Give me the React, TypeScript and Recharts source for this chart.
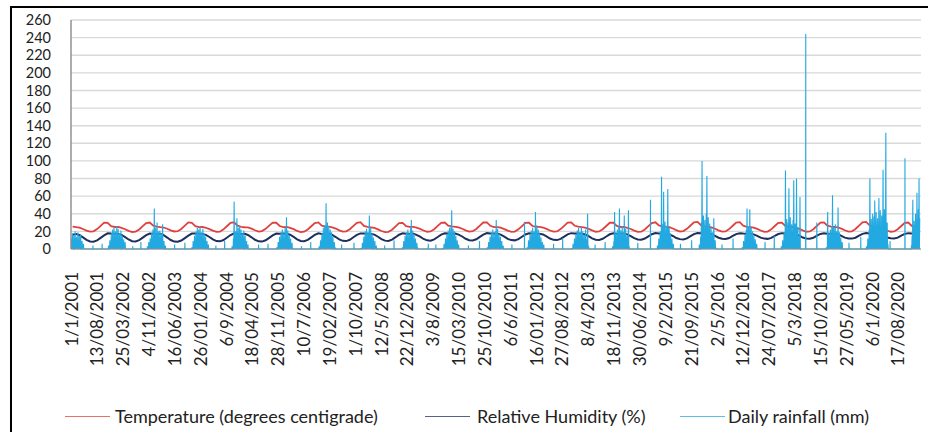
import React from 'react';
import { LineChart, Line, XAxis, YAxis, CartesianGrid } from 'recharts';

// ---------- data ----------
const tickLabels: string[] = [
  '1/1/2001', '13/08/2001', '25/03/2002', '4/11/2002', '16/06/2003', '26/01/2004', '6/9/2004',
  '18/04/2005', '28/11/2005', '10/7/2006', '19/02/2007', '1/10/2007', '12/5/2008', '22/12/2008',
  '3/8/2009', '15/03/2010', '25/10/2010', '6/6/2011', '16/01/2012', '27/08/2012', '8/4/2013',
  '18/11/2013', '30/06/2014', '9/2/2015', '21/09/2015', '2/5/2016', '12/12/2016', '24/07/2017',
  '5/3/2018', '15/10/2018', '27/05/2019', '6/1/2020', '17/08/2020',
];

const yTicks: number[] = [0, 20, 40, 60, 80, 100, 120, 140, 160, 180, 200, 220, 240, 260];

const firstYear = 2001;

// monthly temperature (Jan..Dec), one row per year
const temperatureMonthly: number[][] = [
  [25.3, 24.9, 24.2, 22.7, 20.9, 19.7, 20.1, 22.6, 26.3, 29.9, 29.7, 26.0],
  [25.0, 25.2, 24.0, 22.4, 20.6, 19.3, 19.8, 22.2, 26.0, 29.5, 30.1, 26.4],
  [25.5, 24.8, 24.4, 23.0, 21.2, 19.9, 20.2, 22.8, 26.5, 30.2, 29.6, 25.9],
  [24.9, 25.1, 24.1, 22.6, 20.8, 19.5, 19.7, 22.3, 26.1, 29.7, 30.3, 26.5],
  [25.2, 24.7, 24.5, 23.1, 21.3, 19.8, 20.3, 22.9, 26.6, 30.0, 29.8, 26.1],
  [24.8, 25.0, 24.0, 22.5, 20.5, 19.2, 19.6, 22.1, 25.8, 29.4, 30.2, 26.6],
  [25.4, 25.3, 24.6, 23.2, 21.1, 19.7, 20.0, 22.5, 26.3, 29.8, 30.4, 26.2],
  [25.0, 24.6, 23.9, 22.3, 20.4, 19.1, 19.5, 21.9, 25.7, 29.3, 29.7, 26.0],
  [25.2, 25.1, 24.3, 22.9, 21.0, 19.6, 19.9, 22.4, 26.2, 29.7, 30.1, 26.5],
  [25.6, 25.0, 24.5, 23.0, 21.2, 19.8, 20.2, 22.8, 26.5, 30.1, 30.3, 26.3],
  [24.9, 24.8, 24.2, 22.6, 20.9, 19.5, 19.8, 22.3, 26.0, 29.6, 29.8, 26.1],
  [25.1, 25.2, 24.4, 22.8, 21.0, 19.7, 20.0, 22.6, 26.3, 29.9, 30.2, 26.4],
  [25.3, 24.9, 24.3, 22.9, 21.1, 19.6, 19.9, 22.4, 26.1, 29.8, 29.9, 26.2],
  [25.0, 25.1, 24.1, 22.7, 20.8, 19.4, 19.7, 22.2, 25.9, 29.5, 30.3, 26.7],
  [25.6, 25.3, 24.7, 23.3, 21.4, 19.9, 20.3, 22.9, 26.7, 30.3, 30.8, 27.0],
  [25.8, 25.2, 24.6, 23.0, 21.1, 19.7, 20.0, 22.6, 26.4, 30.0, 30.4, 26.5],
  [25.2, 24.9, 24.3, 22.8, 21.0, 19.5, 19.8, 22.3, 26.1, 29.7, 30.0, 26.2],
  [25.0, 25.1, 24.4, 22.9, 21.2, 19.6, 19.9, 22.5, 26.2, 29.9, 30.2, 26.4],
  [25.4, 25.0, 24.5, 23.1, 21.3, 19.8, 20.1, 22.7, 26.6, 30.2, 30.7, 26.9],
  [25.5, 25.2, 24.4, 22.9, 21.0, 19.6, 19.9, 22.4, 26.1, 29.8, 30.1, 26.3],
  [25.1, 24.9],
];

// monthly relative humidity (Jan..Dec), one row per year
const humidityMonthly: number[][] = [
  [16.2, 17.0, 15.8, 13.2, 10.4, 8.6, 8.3, 9.8, 12.6, 15.4, 17.8, 17.5],
  [17.3, 17.1, 16.0, 13.5, 10.8, 8.9, 8.5, 10.1, 12.9, 15.7, 17.6, 17.2],
  [17.0, 17.4, 15.7, 13.0, 10.2, 8.4, 8.2, 9.6, 12.4, 15.2, 17.5, 17.6],
  [17.4, 17.0, 16.1, 13.6, 10.9, 9.0, 8.7, 10.2, 13.0, 15.9, 17.9, 17.3],
  [17.1, 17.3, 15.9, 13.3, 10.5, 8.7, 8.4, 9.9, 12.7, 15.5, 17.6, 17.4],
  [17.5, 17.2, 16.2, 13.8, 11.0, 9.2, 8.9, 10.4, 13.2, 16.0, 17.8, 17.1],
  [17.0, 17.5, 16.0, 13.6, 10.9, 9.3, 9.0, 10.5, 13.3, 16.1, 17.7, 17.5],
  [17.3, 17.1, 16.3, 13.9, 11.2, 9.5, 9.2, 10.7, 13.4, 16.2, 17.9, 17.4],
  [17.4, 17.3, 16.1, 14.0, 11.4, 9.8, 9.5, 10.9, 13.6, 16.3, 17.8, 17.6],
  [17.2, 17.6, 16.4, 14.2, 11.6, 10.0, 9.7, 11.1, 13.8, 16.4, 18.0, 17.5],
  [17.5, 17.2, 16.3, 14.1, 11.5, 10.1, 9.8, 11.2, 13.9, 16.5, 17.9, 17.3],
  [17.3, 17.4, 16.5, 14.4, 11.9, 10.4, 10.1, 11.5, 14.0, 16.6, 18.0, 17.6],
  [17.6, 17.3, 16.4, 14.5, 12.0, 10.6, 10.3, 11.6, 14.2, 16.7, 17.8, 17.4],
  [17.4, 17.5, 16.6, 14.7, 12.3, 10.9, 10.6, 11.9, 14.4, 16.8, 18.1, 17.7],
  [17.7, 17.4, 16.5, 14.8, 12.5, 11.2, 10.9, 12.1, 14.6, 16.9, 18.2, 17.8],
  [17.5, 17.6, 16.7, 15.0, 12.8, 11.6, 11.3, 12.4, 14.8, 16.9, 17.9, 17.5],
  [17.4, 17.3, 16.6, 15.0, 12.9, 11.8, 11.5, 12.6, 15.0, 17.0, 18.0, 17.6],
  [17.6, 17.5, 16.8, 15.1, 13.0, 12.0, 11.7, 12.7, 15.1, 17.1, 17.9, 17.4],
  [17.3, 17.4, 16.7, 15.0, 12.9, 12.0, 11.8, 12.8, 15.2, 17.2, 18.1, 17.7],
  [17.5, 17.6, 16.8, 15.2, 13.1, 12.1, 11.9, 12.9, 15.3, 17.1, 18.0, 17.5],
  [17.4, 17.3],
];

// rainy seasons: first date, then rainfall on every 6th day (mm); days between are dry
const rainSeasonStart: string[] = [
  '2001-01-01', '2001-11-22', '2002-10-25', '2003-11-14', '2004-10-28', '2005-11-20', '2006-11-22',
  '2007-11-20', '2008-11-12', '2009-10-28', '2010-11-18', '2011-10-30', '2012-11-19', '2013-11-08',
  '2014-12-02', '2015-11-30', '2016-12-06', '2017-11-10', '2018-12-05', '2019-11-18', '2020-12-12',
];
const rainSeasonValues: number[][] = [
  [12, 2, 18, 5, 16, 0, 20, 3, 14, 8, 19, 1, 15, 4, 17, 0, 9, 2, 6],
  [4, 0, 10, 3, 18, 6, 22, 2, 25, 9, 20, 1, 26, 5, 23, 12, 18, 3, 21, 0, 15, 6, 11, 2, 8, 0],
  [3, 0, 8, 2, 12, 5, 18, 1, 22, 6, 46, 3, 24, 10, 30, 2, 20, 8, 21, 4, 18, 1, 28, 6, 9, 0, 4],
  [2, 0, 9, 4, 15, 2, 20, 6, 24, 1, 22, 8, 25, 3, 19, 10, 23, 2, 17, 5, 14, 0, 9, 3, 5],
  [3, 0, 12, 54, 6, 20, 2, 35, 5, 24, 1, 26, 8, 22, 3, 18, 10, 21, 0, 15, 4, 9, 1, 5],
  [2, 0, 8, 3, 14, 1, 19, 5, 22, 2, 18, 7, 24, 1, 36, 4, 21, 0, 16, 6, 12, 2, 7, 0],
  [3, 0, 10, 4, 18, 2, 24, 6, 27, 1, 52, 8, 30, 3, 26, 9, 22, 1, 19, 5, 14, 0, 8, 2],
  [1, 0, 7, 3, 14, 5, 20, 1, 23, 6, 19, 2, 38, 4, 24, 8, 17, 0, 13, 5, 9, 1, 4],
  [2, 0, 9, 4, 15, 1, 19, 6, 22, 3, 18, 7, 24, 33, 5, 21, 2, 17, 6, 12, 0, 7, 2],
  [1, 0, 6, 2, 12, 4, 17, 1, 21, 6, 24, 3, 26, 44, 5, 23, 9, 20, 2, 15, 6, 10, 1, 5],
  [2, 0, 8, 3, 14, 1, 19, 5, 22, 2, 18, 7, 20, 33, 4, 23, 8, 17, 1, 14, 5, 9, 2, 4, 0],
  [2, 0, 10, 4, 16, 2, 21, 6, 24, 1, 20, 8, 42, 3, 27, 9, 22, 1, 18, 6, 13, 2, 8, 0, 5],
  [1, 0, 6, 3, 12, 5, 17, 2, 21, 6, 24, 1, 19, 8, 25, 3, 20, 7, 16, 2, 22, 5, 12, 40, 4, 1],
  [3, 0, 9, 42, 5, 18, 2, 22, 7, 25, 46, 3, 21, 9, 26, 1, 19, 38, 6, 23, 2, 15, 8, 44, 3],
  [4, 0, 12, 6, 20, 3, 82, 9, 28, 65, 5, 31, 12, 26, 2, 68, 10, 24, 4, 18, 7, 12, 2, 6],
  [5, 0, 14, 30, 100, 8, 38, 4, 33, 12, 40, 83, 6, 36, 10, 29, 3, 24, 8, 19, 2, 35, 6, 10, 1],
  [2, 0, 9, 4, 16, 6, 22, 46, 3, 26, 8, 45, 2, 24, 10, 20, 1, 15, 6, 11, 2, 6, 0],
  [3, 0, 10, 5, 18, 8, 89, 12, 34, 6, 30, 69, 14, 36, 4, 28, 11, 33, 78, 7, 29, 3, 80, 10, 25, 4, 15, 59],
  [2, 0, 42, 6, 18, 3, 22, 9, 26, 61, 4, 24, 11, 28, 2, 20, 8, 47, 5, 19, 1, 13, 6, 8, 0],
  [3, 0, 12, 5, 22, 80, 8, 34, 14, 40, 6, 37, 55, 9, 42, 16, 35, 7, 58, 12, 44, 5, 38, 15, 90, 8, 45, 20, 132, 11, 30, 6],
  [4, 15, 56, 10, 32, 6, 40, 18, 64, 12, 45, 80, 35],
];

// isolated rain events outside the main seasons
const rainEventDates: string[] = [
  '2001-07-10', '2001-09-28', '2002-06-20', '2002-08-30', '2003-06-18', '2003-09-15', '2004-06-10',
  '2004-08-25', '2005-06-15', '2005-09-05', '2006-06-22', '2006-09-10', '2007-06-05', '2007-09-20',
  '2008-06-12', '2008-09-01', '2009-06-25', '2009-08-30', '2010-06-08', '2010-09-12', '2011-06-20',
  '2011-10-07', '2012-06-15', '2012-09-02', '2013-06-10', '2013-09-05', '2014-06-15', '2014-10-03',
  '2015-06-20', '2015-09-25', '2016-06-14', '2016-09-18', '2017-06-22', '2017-09-10', '2018-06-10',
  '2018-09-14', '2019-06-20', '2019-09-30', '2020-06-10', '2020-10-17',
];
const rainEventValues: number[] = [
  4, 6, 3, 8, 5, 7, 4,
  9, 5, 6, 3, 8, 5, 7,
  4, 10, 6, 5, 4, 9, 5,
  31, 6, 12, 5, 8, 7, 56,
  6, 10, 5, 12, 8, 15, 244,
  30, 7, 14, 9, 103,
];

// ---------- helpers ----------
const DAY_MS = 86400000;
const BASE = Date.UTC(firstYear, 0, 1);
const dayOfIso = (iso: string) => {
  const [y, m, d] = iso.split('-').map(Number);
  return Math.round((Date.UTC(y, m - 1, d) - BASE) / DAY_MS);
};
const dayOfLabel = (lab: string) => {
  const [d, m, y] = lab.split('/').map(Number);
  return Math.round((Date.UTC(y, m - 1, d) - BASE) / DAY_MS);
};
const tickDays = tickLabels.map(dayOfLabel);
const labelByDay: Record<number, string> = {};
tickLabels.forEach((l, i) => { labelByDay[tickDays[i]] = l; });

const monthly = (rows: number[][]) =>
  rows.flatMap((row, yi) =>
    row.map((v, mi) => ({ day: Math.round((Date.UTC(firstYear + yi, mi, 15) - BASE) / DAY_MS), v })),
  );

const temperatureData = monthly(temperatureMonthly);
const humidityData = monthly(humidityMonthly);

const rainData = (() => {
  const pts: { day: number; v: number }[] = [];
  rainSeasonStart.forEach((s, i) => {
    const start = dayOfIso(s);
    const vals = rainSeasonValues[i];
    if (start > 0) pts.push({ day: start - 1, v: 0 });
    vals.forEach((v, j) => {
      pts.push({ day: start + 6 * j, v });
      const last = j === vals.length - 1 && i === rainSeasonStart.length - 1;
      if (!last) pts.push({ day: start + 6 * j + 3, v: 0 }); // dry day between rainy days
    });
  });
  rainEventDates.forEach((s, i) => {
    const d = dayOfIso(s);
    pts.push({ day: d - 1, v: 0 }, { day: d, v: rainEventValues[i] }, { day: d + 1, v: 0 });
  });
  pts.sort((a, b) => a.day - b.day);
  return pts;
})();

// ---------- styling ----------
const FONT = 'Lato, "Open Sans", sans-serif';
const TEMP = '#e0413f';
const HUM = '#1f2f5e';
const RAIN = '#23a9e1';

const XTick = (props: any) => {
  const { x, y, payload } = props;
  const ty = y + 21;
  return (
    <text
      x={x}
      y={ty}
      transform={`rotate(-90 ${x} ${ty})`}
      textAnchor="end"
      dominantBaseline="central"
      fontFamily={FONT}
      fontSize={17}
      fill="#222"
    >
      {labelByDay[payload.value] ?? ''}
    </text>
  );
};

export default function App() {
  const legendItems = [
    { name: 'Temperature (degrees centigrade)', color: TEMP, lx: 65, tx: 115 },
    { name: 'Relative Humidity (%)', color: HUM, lx: 425, tx: 477 },
    { name: 'Daily rainfall (mm)', color: RAIN, lx: 680, tx: 728 },
  ];
  return (
    <div
      style={{
        position: 'absolute',
        left: 0,
        top: 0,
        width: 928,
        height: 432,
        background: '#fff',
        overflow: 'hidden',
        fontFamily: FONT,
      }}
    >
      <div
        style={{
          position: 'absolute',
          left: 10,
          top: 6,
          width: 930,
          height: 440,
          borderTop: '2px solid #000',
          borderLeft: '2px solid #000',
        }}
      />
      <div style={{ position: 'absolute', left: 0, top: 0 }}>
        <LineChart width={928} height={432} margin={{ top: 20, right: 7, left: 0, bottom: 0 }}>
          <CartesianGrid vertical={false} stroke="#d9d9d9" strokeWidth={1.4} />
          <XAxis
            dataKey="day"
            type="number"
            domain={[0, 7368]}
            ticks={tickDays}
            interval={0}
            allowDataOverflow
            height={183}
            tickLine={false}
            tickSize={0}
            axisLine={{ stroke: '#8a8f94', strokeWidth: 1.2 }}
            tick={<XTick />}
          />
          <YAxis
            type="number"
            domain={[0, 260]}
            ticks={yTicks}
            interval={0}
            width={71}
            tickLine={false}
            tickSize={0}
            tickMargin={20}
            axisLine={{ stroke: '#8a8a8a', strokeWidth: 1.4 }}
            tick={{ fontFamily: FONT, fontSize: 14.5, fill: '#222' }}
          />
          <Line
            data={temperatureData}
            dataKey="v"
            type="linear"
            stroke={TEMP}
            strokeWidth={1.8}
            dot={false}
            activeDot={false}
            isAnimationActive={false}
          />
          <Line
            data={humidityData}
            dataKey="v"
            type="linear"
            stroke={HUM}
            strokeWidth={2}
            dot={false}
            activeDot={false}
            isAnimationActive={false}
          />
          <Line
            data={rainData}
            dataKey="v"
            type="linear"
            stroke={RAIN}
            strokeWidth={1.1}
            dot={false}
            activeDot={false}
            isAnimationActive={false}
          />
        </LineChart>
      </div>
      {legendItems.map((it) => (
        <React.Fragment key={it.name}>
          <div
            style={{
              position: 'absolute',
              left: it.lx,
              top: 416,
              width: 45,
              height: 0,
              borderTop: `1.5px solid ${it.color}`,
              opacity: 0.75,
            }}
          />
          <div
            style={{
              position: 'absolute',
              left: it.tx,
              top: 404,
              fontSize: 18,
              lineHeight: '24px',
              color: '#222',
              whiteSpace: 'nowrap',
            }}
          >
            {it.name}
          </div>
        </React.Fragment>
      ))}
    </div>
  );
}
